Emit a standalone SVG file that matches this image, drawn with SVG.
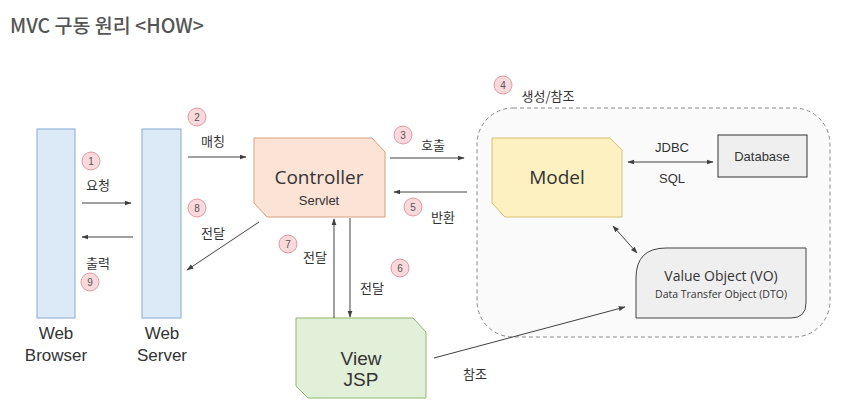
<svg xmlns="http://www.w3.org/2000/svg" width="863" height="414" viewBox="0 0 863 414">
  <style>
    .ko { font-family: "Noto Sans CJK KR", "Noto Sans", sans-serif; font-size: 13px; fill: #333; text-anchor: middle; }
    .ar { font-family: "Liberation Sans", Arial, sans-serif; fill: #333; text-anchor: middle; }
    .os { font-family: "Open Sans", "Liberation Sans", sans-serif; fill: #333; text-anchor: middle; }
    .num circle { fill: #fad9dc; stroke: #e39aa0; stroke-width: 1; }
    .num text { font-family: "Liberation Sans", Arial, sans-serif; font-size: 10px; fill: #555; text-anchor: middle; }
    .conn line { stroke: #404040; stroke-width: 1; fill: none; }
    .tier { fill: #dce9f6; stroke: #86a9cf; stroke-width: 1; }
  </style>
  <defs>
    <marker id="ah" viewBox="0 0 10 10" refX="9" refY="5" markerWidth="7" markerHeight="7" orient="auto-start-reverse" markerUnits="userSpaceOnUse">
      <path d="M0,1.5 L10,5 L0,8.5 Z" fill="#404040"/>
    </marker>
  </defs>

  <!-- page title -->
  <text x="10" y="33" font-family="Noto Sans CJK KR, Noto Sans, sans-serif" font-size="19.5" font-weight="500" fill="#555">MVC 구동 원리 &lt;HOW&gt;</text>

  <!-- model area (dashed container) -->
  <g id="model-area">
    <rect x="477" y="108" width="353" height="229" rx="36" ry="36" fill="#fafafa" stroke="#8a8a8a" stroke-width="1" stroke-dasharray="4 3"/>
  </g>

  <!-- Web Browser -->
  <g id="web-browser">
    <rect class="tier" x="37" y="129" width="38" height="189"/>
    <text class="ar" x="56" y="339" font-size="17">Web</text>
    <text class="ar" x="56" y="361" font-size="17">Browser</text>
  </g>

  <!-- Web Server -->
  <g id="web-server">
    <rect class="tier" x="142" y="129" width="39" height="189"/>
    <text class="ar" x="162" y="339" font-size="17">Web</text>
    <text class="ar" x="162" y="361" font-size="17">Server</text>
  </g>

  <!-- Controller -->
  <g id="controller">
    <polygon points="254,138 372,138 385,152 385,217 267,217 254,203" fill="#fbe3d5" stroke="#d9a07e" stroke-width="1"/>
    <text class="os" x="319" y="184" font-size="19">Controller</text>
    <text class="ar" x="319" y="205" font-size="13">Servlet</text>
  </g>

  <!-- Model -->
  <g id="model">
    <polygon points="492,138 610,138 622,150 622,217 505,217 492,203" fill="#fdf1c2" stroke="#d9c172" stroke-width="1"/>
    <text class="os" x="557" y="184" font-size="19">Model</text>
  </g>

  <!-- Database -->
  <g id="database">
    <rect x="718" y="135" width="89" height="42" fill="#efefef" stroke="#333" stroke-width="1"/>
    <text class="ar" x="762" y="161" font-size="13">Database</text>
  </g>

  <!-- Value Object -->
  <g id="value-object">
    <path d="M666,248 L806,248 L806,303 Q806,318 791,318 L636,318 L636,278 Q636,248 666,248 Z" fill="#efefef" stroke="#444" stroke-width="1"/>
    <text class="os" x="721" y="281" font-size="14">Value Object (VO)</text>
    <text class="os" x="721" y="298" font-size="10.5">Data Transfer Object (DTO)</text>
  </g>

  <!-- View -->
  <g id="view">
    <polygon points="296,318 413,318 426,332 426,398 308,398 296,386" fill="#e2efd9" stroke="#8fb86f" stroke-width="1"/>
    <text class="ar" x="361" y="365" font-size="19">View</text>
    <text class="ar" x="361" y="386" font-size="19">JSP</text>
  </g>

  <!-- connectors -->
  <g id="connectors" class="conn">
    <line x1="82" y1="203" x2="131" y2="203" marker-end="url(#ah)"/>
    <line x1="133" y1="237" x2="82" y2="237" marker-end="url(#ah)"/>
    <line x1="188" y1="157" x2="246" y2="157" marker-end="url(#ah)"/>
    <line x1="259" y1="222" x2="187" y2="270" marker-end="url(#ah)"/>
    <line x1="390" y1="158" x2="464" y2="158" marker-end="url(#ah)"/>
    <line x1="467" y1="192" x2="394" y2="192" marker-end="url(#ah)"/>
    <line x1="334" y1="318" x2="334" y2="219" marker-end="url(#ah)"/>
    <line x1="350" y1="218" x2="350" y2="317" marker-end="url(#ah)"/>
    <line x1="628" y1="162" x2="713" y2="162" marker-start="url(#ah)" marker-end="url(#ah)"/>
    <line x1="613" y1="226" x2="637" y2="253" marker-start="url(#ah)" marker-end="url(#ah)"/>
    <line x1="434" y1="358" x2="625" y2="307" marker-end="url(#ah)"/>
  </g>

  <!-- connector labels -->
  <g id="labels">
    <text class="ko" x="98" y="190">요청</text>
    <text class="ko" x="98" y="268">출력</text>
    <text class="ko" x="213" y="146">매칭</text>
    <text class="ko" x="213" y="238">전달</text>
    <text class="ko" x="315" y="262">전달</text>
    <text class="ko" x="372" y="293">전달</text>
    <text class="ko" x="433" y="150">호출</text>
    <text class="ko" x="443" y="222">반환</text>
    <text class="ko" x="548" y="101">생성/참조</text>
    <text class="ar" x="672" y="152" font-size="13">JDBC</text>
    <text class="ar" x="672" y="183" font-size="13">SQL</text>
    <text class="ko" x="475" y="379">참조</text>
  </g>

  <!-- step numbers -->
  <g id="steps" class="num">
    <g transform="translate(91,161)"><circle r="9"/><text y="3.5">1</text></g>
    <g transform="translate(197,117)"><circle r="9"/><text y="3.5">2</text></g>
    <g transform="translate(403,135)"><circle r="9"/><text y="3.5">3</text></g>
    <g transform="translate(503,85)"><circle r="9"/><text y="3.5">4</text></g>
    <g transform="translate(413,207)"><circle r="9"/><text y="3.5">5</text></g>
    <g transform="translate(400,268)"><circle r="9"/><text y="3.5">6</text></g>
    <g transform="translate(288,244)"><circle r="9"/><text y="3.5">7</text></g>
    <g transform="translate(197,208)"><circle r="9"/><text y="3.5">8</text></g>
    <g transform="translate(90,282)"><circle r="9"/><text y="3.5">9</text></g>
  </g>
</svg>
